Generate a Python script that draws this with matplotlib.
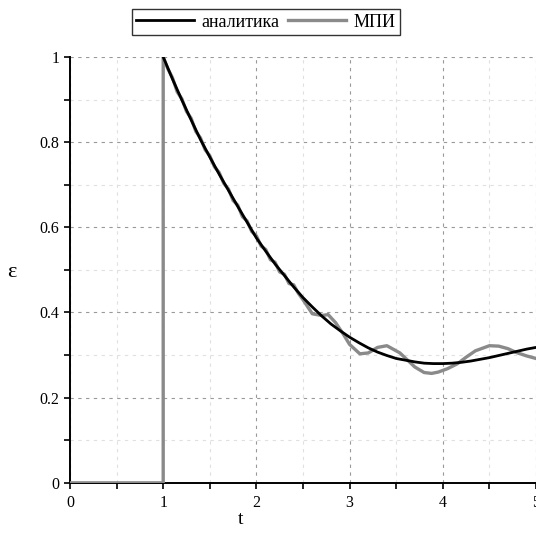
import matplotlib
matplotlib.use("Agg")
import matplotlib.pyplot as plt
from matplotlib.ticker import MultipleLocator

plt.rcParams["font.family"] = ["Liberation Serif", "DejaVu Serif"]

# analytic solution
t_an = [1.0, 1.1, 1.2, 1.3, 1.4, 1.5, 1.6, 1.7, 1.8, 1.9,
        2.0, 2.1, 2.2, 2.3, 2.4, 2.5, 2.6, 2.7, 2.8, 2.9,
        3.0, 3.1, 3.2, 3.3, 3.4, 3.5, 3.6, 3.7, 3.8, 3.9,
        4.0, 4.1, 4.2, 4.3, 4.4, 4.5, 4.6, 4.7, 4.8, 4.9, 5.0]
eps_an = [1.000, 0.948, 0.899, 0.852, 0.806, 0.765, 0.725, 0.687, 0.649, 0.612,
          0.575, 0.544, 0.514, 0.487, 0.460, 0.435, 0.413, 0.392, 0.373, 0.357,
          0.342, 0.329, 0.317, 0.307, 0.299, 0.292, 0.288, 0.284, 0.281, 0.280,
          0.280, 0.281, 0.283, 0.286, 0.290, 0.294, 0.299, 0.304, 0.309, 0.314, 0.318]

# МПИ solution
t_mpi = [0.0, 1.0, 1.0, 1.05, 1.1, 1.15, 1.2, 1.25, 1.3, 1.35, 1.4, 1.45,
         1.5, 1.55, 1.6, 1.65, 1.7, 1.75, 1.8, 1.85, 1.9, 1.95,
         2.0, 2.05, 2.1, 2.15, 2.2, 2.25, 2.3, 2.35, 2.4, 2.45,
         2.5, 2.6, 2.7, 2.77, 2.85, 2.93, 3.0, 3.11, 3.2, 3.3, 3.4,
         3.54, 3.7, 3.8, 3.88, 3.95, 4.05, 4.16, 4.25, 4.35, 4.5,
         4.6, 4.7, 4.79, 4.9, 5.0]
eps_mpi = [0.0, 0.0, 1.0, 0.972, 0.951, 0.918, 0.902, 0.872, 0.856, 0.825, 0.810, 0.782,
           0.768, 0.742, 0.729, 0.703, 0.690, 0.663, 0.652, 0.625, 0.615, 0.590,
           0.580, 0.556, 0.548, 0.524, 0.518, 0.495, 0.490, 0.468, 0.465, 0.445,
           0.430, 0.397, 0.393, 0.395, 0.376, 0.350, 0.325, 0.303, 0.305, 0.318, 0.322,
           0.305, 0.272, 0.259, 0.257, 0.260, 0.268, 0.280, 0.295, 0.310, 0.322,
           0.321, 0.315, 0.306, 0.298, 0.292]

fig = plt.figure(figsize=(5.36, 5.35), dpi=100)
ax = fig.add_axes([0.1306, 0.0975, 0.8694, 0.796])

ax.plot(t_mpi, eps_mpi, color="#8a8a8a", lw=2.4, label="МПИ", zorder=3)
ax.plot(t_an, eps_an, color="black", lw=2.0, label="аналитика", zorder=4)

ax.set_xlim(0, 5)
ax.set_ylim(0, 1)
ax.xaxis.set_major_locator(MultipleLocator(1))
ax.xaxis.set_minor_locator(MultipleLocator(0.5))
ax.yaxis.set_minor_locator(MultipleLocator(0.1))
ax.set_yticks([0, 0.2, 0.4, 0.6, 0.8, 1.0])
ax.set_yticklabels(["0", "0.2", "0.4", "0.6", "0.8", "1"])

ax.grid(which="major", color="#999999", linestyle=(0, (3, 4)), lw=0.8)
ax.grid(which="minor", color="#e0e0e0", linestyle=(0, (3, 4)), lw=0.8)

for side in ["top", "right"]:
    ax.spines[side].set_visible(False)
for side in ["left", "bottom"]:
    ax.spines[side].set_linewidth(1.4)
ax.tick_params(which="both", direction="out", length=4, width=1.2, labelsize=11.5)
ax.tick_params(axis="x", pad=5)

fig.text(0.448, 0.014, "t", fontsize=14, ha="center", va="bottom")
fig.text(0.022, 0.49, "ε", fontsize=16, ha="center", va="center")

handles, labels = ax.get_legend_handles_labels()
leg = fig.legend(handles[::-1], labels[::-1], loc="upper center", ncol=2,
                 bbox_to_anchor=(0.496, 0.983), fontsize=13, frameon=True,
                 fancybox=False, edgecolor="black", handlelength=3.2,
                 columnspacing=0.5, handletextpad=0.4, borderpad=0.25,
                 borderaxespad=0.0)
leg.get_frame().set_linewidth(1.0)

fig.savefig("out.png", dpi=100)
